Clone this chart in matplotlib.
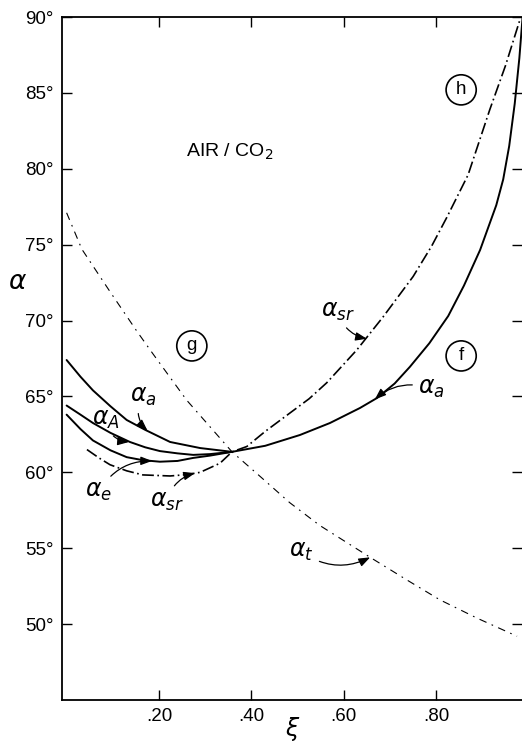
import matplotlib
matplotlib.use("Agg")
import matplotlib.pyplot as plt

# ---- data ----
alpha_a_x = [0.0, 0.03, 0.057, 0.095, 0.13, 0.17, 0.224, 0.289, 0.358, 0.43, 0.505, 0.57, 0.635,
             0.672, 0.71, 0.743, 0.785, 0.826, 0.86, 0.895, 0.93, 0.945, 0.958, 0.97, 0.98, 0.987]
alpha_a_y = [67.4, 66.3, 65.4, 64.35, 63.45, 62.8, 62.0, 61.6, 61.35, 61.75, 62.46, 63.25, 64.24,
             64.9, 65.85, 66.95, 68.5, 70.3, 72.3, 74.65, 77.6, 79.3, 81.5, 84.3, 87.3, 90.0]

alpha_A_x = [0.0, 0.03, 0.057, 0.095, 0.137, 0.17, 0.202, 0.24, 0.274, 0.31, 0.358]
alpha_A_y = [64.4, 63.8, 63.25, 62.6, 62.0, 61.65, 61.4, 61.25, 61.15, 61.2, 61.35]

alpha_e_x = [0.0, 0.03, 0.057, 0.095, 0.13, 0.165, 0.202, 0.24, 0.274, 0.31, 0.358]
alpha_e_y = [63.8, 62.85, 62.1, 61.45, 61.0, 60.8, 60.7, 60.75, 60.95, 61.1, 61.35]

alpha_sr_x = [0.044, 0.07, 0.094, 0.13, 0.165, 0.224, 0.26, 0.289, 0.332, 0.358, 0.39, 0.43,
              0.483, 0.525, 0.563, 0.628, 0.685, 0.75, 0.79, 0.823, 0.869, 0.916, 0.95, 0.981]
alpha_sr_y = [61.5, 60.95, 60.5, 60.1, 59.83, 59.76, 59.85, 60.0, 60.6, 61.35, 61.7, 62.7,
              63.9, 64.85, 65.9, 68.06, 70.24, 72.9, 74.9, 76.8, 79.6, 83.9, 86.8, 89.8]

alpha_t_x = [0.0, 0.022, 0.033, 0.094, 0.152, 0.187, 0.26, 0.358, 0.42, 0.483, 0.548, 0.657,
             0.737, 0.808, 0.888, 0.975]
alpha_t_y = [77.1, 75.5, 74.7, 71.9, 69.3, 67.8, 64.75, 61.35, 59.7, 58.0, 56.5, 54.4,
             52.9, 51.6, 50.4, 49.2]

x_ticks = [0.2, 0.4, 0.6, 0.8]
x_tick_labels = [".20", ".40", ".60", ".80"]
y_ticks = [50, 55, 60, 65, 70, 75, 80, 85, 90]
y_tick_labels = ["50°", "55°", "60°", "65°", "70°", "75°", "80°", "85°", "90°"]

plt.rcParams['font.family'] = ['Liberation Sans', 'DejaVu Sans']
plt.rcParams['mathtext.fontset'] = 'dejavusans'
plt.rcParams['lines.scale_dashes'] = False

fig = plt.figure(figsize=(5.22, 7.42), dpi=100)
ax = fig.add_axes([62 / 522, 1 - 700 / 742, 1 - 62 / 522, (700 - 17) / 742])
ax.set_xlim(-0.01, 0.9857)
ax.set_ylim(45, 90)

solid = dict(color='black', lw=1.4, solid_capstyle='round', solid_joinstyle='round')
ax.plot(alpha_a_x, alpha_a_y, **solid)
ax.plot(alpha_A_x, alpha_A_y, **solid)
ax.plot(alpha_e_x, alpha_e_y, **solid)
ax.plot(alpha_sr_x, alpha_sr_y, color='black', lw=1.2, linestyle=(0, (8.5, 2.5, 1.2, 2.5)))
ax.plot(alpha_t_x, alpha_t_y, color='black', lw=0.8, linestyle=(0, (5.5, 4.0, 1.2, 4.0)))

ax.set_xticks(x_ticks)
ax.set_xticklabels(x_tick_labels)
ax.set_yticks(y_ticks)
ax.set_yticklabels(y_tick_labels)
ax.tick_params(direction='in', length=7, width=1.0, labelsize=13.5, pad=6,
               top=True, right=True, colors='black')
ax.spines['right'].set_visible(False)
for s in ['left', 'bottom', 'top']:
    ax.spines[s].set_linewidth(1.3)

# axis labels
fig.text(18 / 522, 1 - 282 / 742, r'$\alpha$', fontsize=19, ha='center', va='center')
fig.text(293 / 522, 1 - 729 / 742, r'$\xi$', fontsize=17, ha='center', va='center')

# title text
ax.text(0.354, 81.1, r'AIR / CO$_2$', fontsize=14, ha='center', va='center')

# circled region labels
circ = dict(boxstyle='circle,pad=0.35', fc='white', ec='black', lw=1.2)
ax.text(0.271, 68.33, 'g', fontsize=13.5, ha='center', va='center', bbox=circ)
ax.text(0.854, 85.2, 'h', fontsize=13.5, ha='center', va='center', bbox=circ)
ax.text(0.854, 67.67, 'f', fontsize=13.5, ha='center', va='center', bbox=circ)

arrow = dict(arrowstyle='-|>,head_length=0.4,head_width=0.15', color='black', lw=0.9,
             shrinkA=2, shrinkB=0)
lab = dict(fontsize=17, ha='center', va='center')

ax.annotate(r'$\alpha_a$', xy=(0.175, 62.75), xytext=(0.165, 64.97),
            arrowprops=dict(**arrow, connectionstyle='arc3,rad=0.4'), **lab)
ax.annotate(r'$\alpha_A$', xy=(0.135, 62.0), xytext=(0.085, 63.45),
            arrowprops=dict(**arrow, connectionstyle='arc3,rad=0.4'), **lab)
ax.annotate(r'$\alpha_e$', xy=(0.185, 60.75), xytext=(0.07, 58.7),
            arrowprops=dict(**arrow, connectionstyle='arc3,rad=-0.3'), **lab)
ax.annotate(r'$\alpha_{sr}$', xy=(0.278, 59.95), xytext=(0.217, 58.05),
            arrowprops=dict(**arrow, connectionstyle='arc3,rad=-0.3'), **lab)
ax.annotate(r'$\alpha_{sr}$', xy=(0.65, 68.8), xytext=(0.587, 70.57),
            arrowprops=dict(**arrow, connectionstyle='arc3,rad=0.3'), **lab)
ax.annotate(r'$\alpha_a$', xy=(0.667, 64.8), xytext=(0.789, 65.5),
            arrowprops=dict(**arrow, connectionstyle='arc3,rad=0.3'), **lab)
ax.annotate(r'$\alpha_t$', xy=(0.657, 54.4), xytext=(0.509, 54.76),
            arrowprops=dict(**arrow, connectionstyle='arc3,rad=0.3'), **lab)

fig.savefig('out.png', dpi=100)
